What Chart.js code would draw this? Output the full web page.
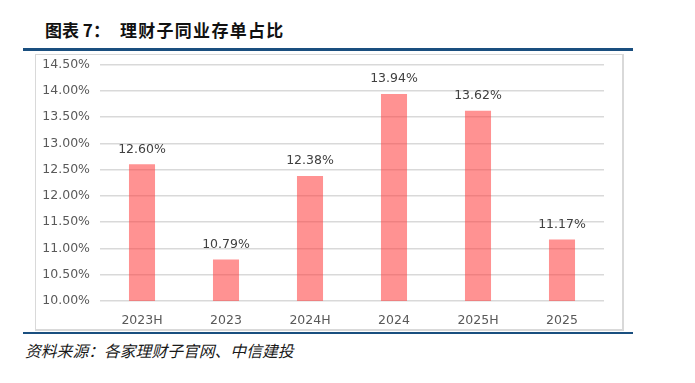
<!DOCTYPE html>
<html>
<head>
<meta charset="utf-8">
<script src="https://cdn.jsdelivr.net/npm/chart.js@4"></script>
<style>
  html,body{margin:0;padding:0;background:#fff;width:695px;height:383px;overflow:hidden;}
  #title{position:absolute;left:45px;top:18px;font-family:"Noto Sans CJK SC";font-weight:bold;font-size:17px;color:#111;line-height:24px;white-space:nowrap;}
  #title .t2{margin-left:10px;letter-spacing:1.3px;}
  #topline{position:absolute;left:23px;top:48px;width:610px;height:3px;background:#1a4f7f;}
  #box{position:absolute;left:35px;top:54px;width:586px;height:274px;border:1px solid #d9d9d9;border-right-width:2px;border-bottom-width:2px;}
  #chartwrap{position:absolute;left:36px;top:47px;width:586px;height:281px;}
  #botline{position:absolute;left:23px;top:332px;width:610px;height:2px;background:#1a4f7f;}
  #source{position:absolute;left:25px;top:340px;font-family:"Noto Sans CJK SC";font-style:italic;font-size:15.8px;color:#1a1a1a;line-height:22px;white-space:nowrap;}
</style>
</head>
<body>
<div id="title">图表 7：<span class="t2">理财子同业存单占比</span></div>
<div id="topline"></div>
<div id="box"></div>
<div id="chartwrap"><canvas id="c" width="586" height="281"></canvas></div>
<div id="botline"></div>
<div id="source">资料来源：各家理财子官网、中信建投</div>
<script>
const categories = ["2023H","2023","2024H","2024","2025H","2025"];
const shareValues = [12.60, 10.79, 12.38, 13.94, 13.62, 11.17];
const yTicks = [10.0,10.5,11.0,11.5,12.0,12.5,13.0,13.5,14.0,14.5];

const labelPlugin = {
  id:'barLabels',
  afterDatasetsDraw(chart){
    const ctx = chart.ctx;
    const meta = chart.getDatasetMeta(0);
    ctx.save();
    ctx.font = '12.5px "DejaVu Sans"';
    ctx.fillStyle = '#404040';
    ctx.textAlign = 'center';
    ctx.textBaseline = 'middle';
    meta.data.forEach((bar,i)=>{
      ctx.fillText(shareValues[i].toFixed(2)+'%', bar.x, bar.y-15);
    });
    ctx.restore();
  }
};

new Chart(document.getElementById('c'), {
  type:'bar',
  data:{
    labels:categories,
    datasets:[{
      data:shareValues,
      backgroundColor:'rgba(255,60,60,0.56)',
      borderWidth:0,
      categoryPercentage:1,
      barPercentage:0.31
    }]
  },
  options:{
    responsive:false,
    animation:false,
    devicePixelRatio:1,
    layout:{padding:{left:0,right:18,top:1,bottom:0}},
    plugins:{legend:{display:false},tooltip:{enabled:false}},
    scales:{
      x:{
        grid:{display:false,drawTicks:false},
        border:{display:false},
        ticks:{color:'#595959',font:{family:'DejaVu Sans',size:12.5},padding:12},
        afterFit(s){s.height=27;}
      },
      y:{
        min:10,max:14.5,
        grid:{color:'#d9d9d9',lineWidth:1.5,drawTicks:false},
        border:{display:false},
        afterBuildTicks(s){s.ticks = yTicks.map(v=>({value:v}));},
        ticks:{color:'#595959',font:{family:'DejaVu Sans',size:12.5},padding:10,
          callback:(v)=>Number(v).toFixed(2)+'%'},
        afterFit(s){s.width=64;}
      }
    }
  },
  plugins:[labelPlugin]
});
</script>
</body>
</html>
